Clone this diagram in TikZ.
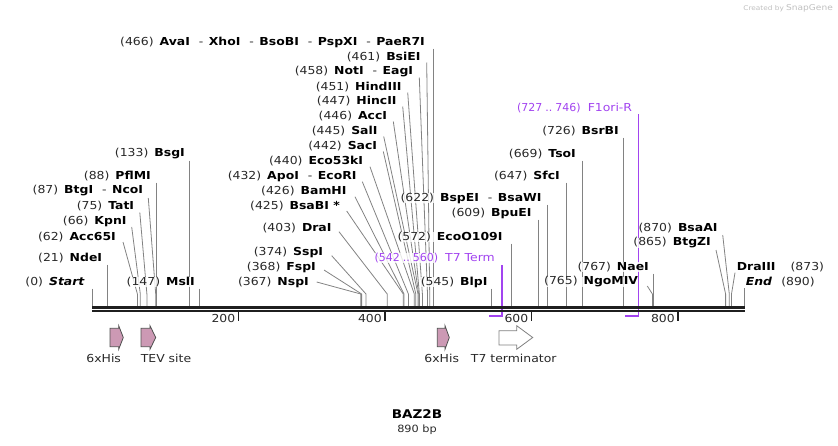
\documentclass[tikz,border=0pt]{standalone}
\usepackage{fontspec}
\setmainfont{DejaVu Sans}[FakeStretch=1.13]
\newfontfamily\plainfont{DejaVu Sans}
\usetikzlibrary{calc}
\pgfdeclarelayer{bg}
\pgfsetlayers{bg,main}
\definecolor{purp}{RGB}{162,68,240}
\definecolor{featpink}{RGB}{204,153,180}
\definecolor{numgray}{RGB}{40,40,40}
\definecolor{cutgray}{RGB}{130,130,130}
\definecolor{featline}{RGB}{80,80,80}
\newcommand\lb[2]{{\color{numgray}(#1)}\hspace{6pt}\textbf{#2}}
\newcommand\dsh{\hspace{9pt}{\color{numgray}-}\hspace{5.5pt}}
% diagonal cut line: id, label right x, label y, text, site x, dx, dy
\newcommand\enzD[7]{%
  \node[lbl,anchor=east] (#1) at (#2,#3) {#4};
  \coordinate (#1a) at ($(#1.east)+(#6,#7)$);
  \coordinate (#1k) at (#5,294);
  \coordinate (#1b) at (#5,306);
  \begin{pgfonlayer}{bg}\draw[cut] (#1a) -- (#1k) -- (#1b);\end{pgfonlayer}
}
% vertical cut line: id, label right x, label y, text, site x
\newcommand\enzV[5]{%
  \node[lbl,anchor=east] (#1) at (#2,#3) {#4};
  \coordinate (#1a) at (#5,#3+6.5);
  \coordinate (#1b) at (#5,306);
  \begin{pgfonlayer}{bg}\draw[cut] (#1a) -- (#1b);\end{pgfonlayer}
}
\begin{document}
\begin{tikzpicture}[x=1pt,y=-1pt,
  lbl/.style={inner sep=0pt, font=\fontsize{11}{13}\selectfont, fill=white, fill opacity=0.8, text opacity=1},
  cut/.style={draw=cutgray, line width=0.8pt},
  bracket/.style={draw=purp, line width=1.5pt},
  featarrow/.style={fill=featpink, draw=featline, line width=0.8pt, line join=miter},
  termarrow/.style={fill=white, draw=gray, line width=0.8pt},
  flab/.style={inner sep=0pt, font=\fontsize{11}{13}\selectfont, text=numgray},
  tickl/.style={inner sep=0pt, font=\fontsize{11}{13}\selectfont, text=numgray, anchor=east}]
\useasboundingbox (0,0) rectangle (838,445);

% watermark
\node[inner sep=0pt, anchor=east, font=\fontsize{6.5}{8}\selectfont, text=gray!50] (wm) at (833,8) {Created by \fontsize{8}{9}\selectfont SnapGene};

% ---- left group
\enzV{start}{85}{282}{{\color{numgray}(0)}\hspace{6pt}\textbf{\textit{Start}}}{92.0}
\enzV{nde}{102.3}{258}{\lb{21}{NdeI}}{107.4}
\enzD{acc}{116}{237}{\lb{62}{Acc65I}}{137.4}{7}{5}
\enzD{kpn}{126.7}{221}{\lb{66}{KpnI}}{140.3}{5}{6}
\enzD{tat}{134.3}{206}{\lb{75}{TatI}}{146.9}{5.5}{6.5}
\enzD{btg}{143.3}{191}{\lb{87}{BtgI}\dsh\textbf{NcoI}}{155.7}{5}{7}
\enzV{pfl}{151}{176}{\lb{88}{PflMI}}{156.5}
\enzV{bsg}{185}{154}{\lb{133}{BsgI}}{189.4}
\enzV{msl}{195}{282}{\lb{147}{MslI}}{199.7}

% ---- middle group
\enzV{ava}{425}{42}{\lb{466}{AvaI}\dsh\textbf{XhoI}\dsh\textbf{BsoBI}\dsh\textbf{PspXI}\dsh\textbf{PaeR7I}}{433.3}
\enzD{bsie}{420.7}{57}{\lb{461}{BsiEI}}{429.7}{6}{5.5}
\enzD{not}{413.3}{72}{\lb{458}{NotI}\dsh\textbf{EagI}}{427.5}{6}{5.5}
\enzD{hind}{401.7}{87}{\lb{451}{HindIII}}{422.4}{6}{5.5}
\enzD{hinc}{396.7}{101}{\lb{447}{HincII}}{419.4}{6}{5.5}
\enzD{acci}{387.3}{116}{\lb{446}{AccI}}{418.7}{6}{5.5}
\enzD{sal}{377.7}{131}{\lb{445}{SalI}}{418.0}{6}{5.5}
\enzD{sac}{377.3}{146}{\lb{442}{SacI}}{415.8}{6}{5.5}
\enzD{eco53}{363.3}{161}{\lb{440}{Eco53kI}}{414.3}{6.7}{5.7}
\enzD{apo}{356.7}{176}{\lb{432}{ApoI}\dsh\textbf{EcoRI}}{408.4}{5.6}{5.7}
\enzD{bam}{346.7}{191}{\lb{426}{BamHI}}{404.0}{8.3}{5.7}
\enzD{bsab}{340}{206}{\lb{425}{BsaBI *}}{403.3}{6.7}{5}
\enzD{dra}{331.7}{228}{\lb{403}{DraI}}{387.2}{7.3}{3.7}
\enzD{ssp}{323.3}{252}{\lb{374}{SspI}}{366.0}{8.4}{3.7}
\enzD{fsp}{316}{267}{\lb{368}{FspI}}{361.6}{8}{3}
\enzD{nsp}{309}{282}{\lb{367}{NspI}}{360.8}{7.7}{0}

% ---- right group
\enzV{blp}{487.7}{282}{\lb{545}{BlpI}}{491.2}
\enzV{eco109}{502.7}{237}{\lb{572}{EcoO109I}}{511.0}
\enzV{bpu}{531.7}{213}{\lb{609}{BpuEI}}{538.1}
\enzV{bsp}{541.7}{198}{\lb{622}{BspEI}\dsh\textbf{BsaWI}}{547.6}
\enzV{sfc}{560}{176}{\lb{647}{SfcI}}{565.9}
\enzV{tso}{576}{154}{\lb{669}{TsoI}}{582.0}
\enzV{bsrb}{619}{131}{\lb{726}{BsrBI}}{623.8}
\enzV{nae}{649}{267}{\lb{767}{NaeI}}{653.8}
\enzD{ngo}{638.3}{282}{\lb{765}{NgoMIV}}{652.4}{9}{4}
\enzD{bsaa}{717.7}{228}{\lb{870}{BsaAI}}{729.3}{5}{7}
\enzD{btgz}{711}{243}{\lb{865}{BtgZI}}{725.6}{5}{7}

\node[lbl,anchor=west] (dra3) at (736.7,267) {\textbf{DraIII}\hspace{15pt}{\color{numgray}(873)}};
\coordinate (dra3a) at ($(dra3.west)+(-1.7,5.7)$);
\coordinate (dra3k) at (731.5,294);
\coordinate (dra3b) at (731.5,306);
\begin{pgfonlayer}{bg}\draw[cut] (dra3a) -- (dra3k) -- (dra3b);\end{pgfonlayer}

\node[lbl,anchor=west] (endl) at (745.7,282) {\textbf{\textit{End}}\hspace{9pt}{\color{numgray}(890)}};
\coordinate (enda) at (744.5,288);
\coordinate (endb) at (744.5,306);
\begin{pgfonlayer}{bg}\draw[cut] (enda) -- (endb);\end{pgfonlayer}

% ---- features (purple)
\node[lbl,anchor=east,text=purp] (t7t) at (495,258) {{\plainfont(542\hspace{3pt}..\hspace{3pt}560)}\hspace{7pt}T7 Term};
\coordinate (t7top) at (502.2,265);
\coordinate (t7c) at (502.2,316);
\coordinate (t7l) at (489.0,316);
\begin{pgfonlayer}{bg}\draw[bracket] (t7top) -- (t7c) -- (t7l);\end{pgfonlayer}

\node[lbl,anchor=east,text=purp] (f1) at (632.3,108) {{\plainfont(727\hspace{3pt}..\hspace{3pt}746)}\hspace{7pt}F1ori-R};
\coordinate (f1top) at (638.4,114);
\coordinate (f1c) at (638.4,316);
\coordinate (f1l) at (624.5,316);
\begin{pgfonlayer}{bg}\draw[bracket] (f1top) -- (f1c) -- (f1l);\end{pgfonlayer}

% ---- sequence bar
\coordinate (b0) at (92,307.5);
\coordinate (b1) at (745,307.5);
\coordinate (c0) at (92,311.2);
\coordinate (c1) at (745,311.2);
\draw[line width=3pt, draw=black!88] (b0) -- (b1);
\draw[line width=2.4pt, draw=black!88] (c0) -- (c1);

% ticks
\foreach \t/\xx in {200/238.5,400/385.0,600/531.5,800/678.0}{
  \coordinate (tk\t a) at (\xx,312);
  \coordinate (tk\t b) at (\xx,321);
  \draw[line width=1.6pt, draw=black!88] (tk\t a) -- (tk\t b);
  \node[tickl] (tl\t) at (\xx-3,318) {\t};
}

% ---- feature arrows
\draw[featarrow] (110,328.3) -- (118.7,328.3) -- (118.7,325.7) -- (123.3,337.5) -- (118.7,349.3) -- (118.7,346.7) -- (110,346.7) -- cycle;
\draw[featarrow] (141,328.3) -- (150,328.3) -- (150,325.7) -- (155.7,337.5) -- (150,349.3) -- (150,346.7) -- (141,346.7) -- cycle;
\draw[featarrow] (437.3,328.3) -- (445,328.3) -- (445,325.7) -- (449.3,337.5) -- (445,349.3) -- (445,346.7) -- (437.3,346.7) -- cycle;
\draw[termarrow] (499,330.7) -- (516.7,330.7) -- (516.7,325.7) -- (532.7,337.5) -- (516.7,349.3) -- (516.7,345) -- (499,345) -- cycle;

\node[flab] (his1) at (103.7,358) {6xHis};
\node[flab] (tev) at (166,358) {TEV site};
\node[flab] (his2) at (441.7,358) {6xHis};
\node[flab] (t7term) at (513.7,358) {T7 terminator};

% ---- title
\node[inner sep=0pt, font=\fontsize{12}{14}\selectfont\bfseries] (title) at (417,414) {BAZ2B};
\node[inner sep=0pt, font=\fontsize{10}{12}\selectfont, text=numgray] (len) at (417,430) {890 bp};
\end{tikzpicture}
\end{document}
